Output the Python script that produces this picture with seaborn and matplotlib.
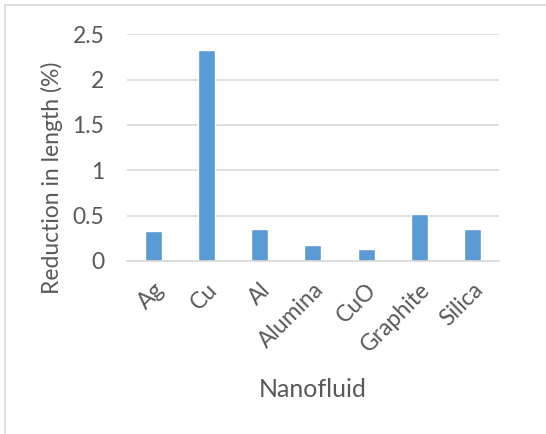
import pandas as pd
import matplotlib
matplotlib.use("Agg")
import matplotlib.pyplot as plt
from matplotlib.patches import Rectangle
import seaborn as sns

NANOFLUIDS = ["Ag", "Cu", "Al", "Alumina", "CuO", "Graphite", "Silica"]
REDUCTION = [0.33, 2.33, 0.35, 0.18, 0.135, 0.52, 0.35]
Y_TICKS = [0, 0.5, 1, 1.5, 2, 2.5]
Y_TICK_LABELS = ["0", "0.5", "1", "1.5", "2", "2.5"]

sns.set_theme(style="white")
plt.rcParams["font.family"] = ["Lato", "DejaVu Sans"]
text_col = "#595959"
grid_col = "#d9d9d9"

df = pd.DataFrame({"Nanofluid": NANOFLUIDS, "Reduction": REDUCTION})

fig = plt.figure(figsize=(5.46, 4.34), dpi=100)
ax = fig.add_axes([0.232, 0.399, 0.682, 0.522])

sns.barplot(data=df, x="Nanofluid", y="Reduction", color="#5b9bd5",
            saturation=1, width=0.32, ax=ax, zorder=3)

ax.set_ylim(0, 2.5)
ax.set_yticks(Y_TICKS)
ax.set_yticklabels(Y_TICK_LABELS)
ax.set_xlim(-0.5, len(NANOFLUIDS) - 0.5)
ax.grid(True, axis="y", color=grid_col, linewidth=1.2, zorder=0)
ax.grid(False, axis="x")
for s in ["top", "right", "left"]:
    ax.spines[s].set_visible(False)
ax.spines["bottom"].set_color(grid_col)
ax.spines["bottom"].set_linewidth(1.2)
ax.spines["bottom"].set_zorder(4)

ax.tick_params(axis="both", length=0, labelsize=16.5, colors=text_col)
ax.tick_params(axis="y", pad=16)
ax.tick_params(axis="x", pad=13)
for lbl in ax.get_xticklabels():
    lbl.set_rotation(45)
    lbl.set_ha("right")
    lbl.set_va("top")
    lbl.set_rotation_mode("anchor")

ax.set_xlabel("Nanofluid", fontsize=18, color=text_col, labelpad=16)
ax.set_ylabel("Reduction in length (%)", fontsize=16.5, color=text_col)
ax.yaxis.set_label_coords(-0.172, 0.365)

fig.patches.append(Rectangle((5 / 546, -0.1), 1.2, 1 - 5 / 434 + 0.1,
                             transform=fig.transFigure, fill=False,
                             edgecolor=grid_col, linewidth=1.2))

fig.savefig("out.png", dpi=100)
